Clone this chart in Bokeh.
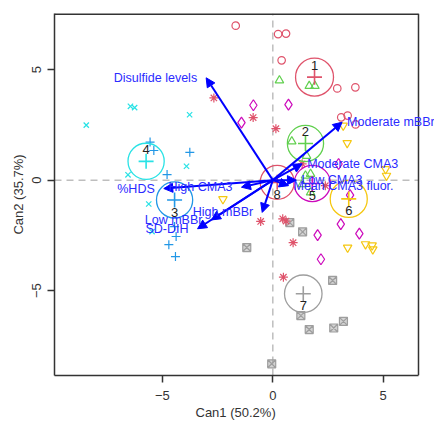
from bokeh.plotting import figure
from bokeh.models import (ColumnDataSource, Arrow, NormalHead, Label,
                          Range1d, FixedTicker, Title)
from bokeh.embed import file_html
from bokeh.resources import INLINE

FONT = "Liberation Sans"

# Canonical scores of the observations, one pair of lists per group
can1_g1 = [-1.68, 0.24, 0.60, 0.40, 2.92, 3.74, 3.10, 3.39, 3.75]
can2_g1 = [6.99, 6.61, 6.63, 5.42, 4.15, 4.20, 2.84, 2.92, 2.52]
can1_g2 = [0.30, 1.65, 1.91, 0.86, 1.53, 1.48, 1.71, 1.33, 1.71]
can2_g2 = [4.51, 4.26, 4.26, 1.75, 1.10, 0.20, 0.28, -0.18, -0.56]
can1_g3 = [-5.56, -5.39, -3.76, -4.79, -4.38, -4.71, -4.41, -4.45]
can2_g3 = [1.72, 1.34, 1.26, 0.25, -2.55, -2.92, -3.46, -2.10]
can1_g4 = [-8.45, -6.45, -6.26, -3.77, -3.91, -6.56, -5.62, -5.47]
can2_g4 = [2.49, 3.34, 3.28, 2.96, 0.63, 0.24, -1.08, -2.33]
can1_g5 = [-0.88, -1.42, 0.71, 2.98, 3.50, 3.08, 3.92, 2.03, 2.18]
can2_g5 = [3.39, 2.60, 3.42, 0.73, -0.68, -1.99, -2.42, -2.49, -3.58]
can1_g6 = [3.19, 3.37, 5.11, 5.15, -2.26, 3.39, 4.20, 4.50, 4.53]
can2_g6 = [2.47, 1.68, 0.50, 0.20, -0.86, -3.05, -2.90, -2.95, -3.13]
can1_g7 = [0.77, 1.35, -1.18, 2.71, 1.27, 1.65, 2.76, 3.20, -0.05]
can2_g7 = [-1.92, -2.34, -3.05, -4.54, -6.13, -6.76, -6.69, -6.39, -8.31]
can1_g8 = [-2.67, -0.89, 0.14, 1.33, -0.55, 0.45, 0.60, 0.92, 0.48, 2.38]
can2_g8 = [3.72, 2.83, 2.33, 0.74, -1.87, -1.75, -1.85, -2.83, -4.39, -0.25]

group_labels = ["1", "2", "3", "4", "5", "6", "7", "8"]
group_colors = ["#DF536B", "#61D04F", "#2297E6", "#28E2E5",
                "#CD0BBC", "#F5C710", "#9E9E9E", "#DF536B"]
group_markers = ["circle", "triangle", "cross", "x",
                 "diamond", "inverted_triangle", "square_x", "asterisk"]

# Group centroids and radii of their confidence circles
centroid_can1 = [1.89, 1.48, -4.45, -5.74, 1.79, 3.44, 1.38, 0.20]
centroid_can2 = [4.66, 1.66, -0.90, 0.85, -0.15, -0.85, -5.14, -0.10]
centroid_radius = [0.86, 0.82, 0.82, 0.82, 0.82, 0.84, 0.85, 0.77]

# Structure vectors of the variables
vector_names = ["Disulfide levels", "%HDS", "High CMA3", "Low mBBr", "SD-DIH",
                "High mBBr", "Moderate mBBr", "Moderate CMA3", "Low CMA3",
                "Mean CMA3 fluor."]
vector_can1 = [-3.02, -4.94, -1.42, -2.78, -3.41, -0.48, 3.14, 1.33, 1.07, 0.71]
vector_can2 = [4.63, -0.38, -0.32, -1.80, -2.20, -1.46, 2.62, 0.74, 0.00, -0.25]

x_label = "Can1 (50.2%)"
y_label = "Can2 (35.7%)"
ticks = [-5, 0, 5]

# Plot box limits; the frame runs past the box on the right so that vector
# labels can spill over the box edge.
box_x = (-9.89, 6.60)
box_y = (-8.84, 7.54)
ink = "#333333"

p = figure(width=434, height=425, output_backend="svg", toolbar_location=None,
           x_range=Range1d(box_x[0], 7.325), y_range=Range1d(*box_y),
           min_border_left=54, min_border_right=0, min_border_top=13,
           min_border_bottom=50)
p.background_fill_color = "white"
p.border_fill_color = "white"
p.grid.visible = False
p.outline_line_color = None

for ax in (p.xaxis, p.yaxis):
    ax.ticker = FixedTicker(ticks=ticks)
    ax.minor_tick_line_color = None
    ax.major_tick_in = 0
    ax.major_tick_out = 7
    ax.major_tick_line_width = 1.5
    ax.major_tick_line_color = ink
    ax.axis_line_color = ink
    ax.axis_line_width = 1.5
    ax.major_label_text_font = FONT
    ax.major_label_text_font_size = "13px"
    ax.major_label_text_color = ink
    ax.axis_label_text_font = FONT
    ax.axis_label_text_font_size = "13px"
    ax.axis_label_text_font_style = "normal"
    ax.axis_label_text_color = ink
p.xaxis.major_label_standoff = 8
p.yaxis.major_label_standoff = 6
p.xaxis.bounds = box_x
p.yaxis.bounds = box_y
p.yaxis.axis_label = y_label
p.yaxis.axis_label_standoff = 4
p.yaxis.major_label_orientation = "parallel"

# x axis title, centred under the plot box rather than the wider frame
p.add_layout(Title(text=x_label, align="left", offset=141, standoff=0,
                   text_font=FONT, text_font_size="13px", text_line_height=0.5,
                   text_font_style="normal", text_color=ink), "below")

# Reference lines through the origin
p.segment(x0=[0, box_x[0]], y0=[box_y[0], 0], x1=[0, box_x[1]], y1=[box_y[1], 0],
          line_color="#BEBEBE", line_width=1.5, line_dash="7 5")

# Top and right edges of the plot box
p.segment(x0=[box_x[0]], y0=[box_y[1]], x1=[box_x[1]], y1=[box_y[1]],
          line_color=ink, line_width=3)
p.segment(x0=[box_x[1]], y0=[box_y[0]], x1=[box_x[1]], y1=[box_y[1]],
          line_color=ink, line_width=1.5)

# Observations
score_lists = [(can1_g1, can2_g1), (can1_g2, can2_g2), (can1_g3, can2_g3),
               (can1_g4, can2_g4), (can1_g5, can2_g5), (can1_g6, can2_g6),
               (can1_g7, can2_g7), (can1_g8, can2_g8)]
marker_size = {"circle": 7.5, "triangle": 8.5, "cross": 9, "x": 7.5,
               "diamond": 11, "inverted_triangle": 8.5, "square_x": 8,
               "asterisk": 9}
for (xs, ys), col, mk in zip(score_lists, group_colors, group_markers):
    fill = col if mk == "square_x" else None
    p.scatter(xs, ys, marker=mk, size=marker_size[mk], line_color=col,
              fill_color=fill, fill_alpha=0.45, line_width=1.2)

# Centroids with circles
csrc = ColumnDataSource(dict(x=centroid_can1, y=centroid_can2, r=centroid_radius,
                             col=group_colors))
p.circle(x="x", y="y", radius="r", source=csrc, fill_color=None,
         line_color="col", line_width=1.3)
p.scatter(x="x", y="y", source=csrc, marker="cross", size=15,
          line_color="col", line_width=1.6)

for cx, cy, lab in zip(centroid_can1, centroid_can2, group_labels):
    p.add_layout(Label(x=cx, y=cy, text=lab, y_offset=12 if cy > 0 else -12,
                       text_align="center", text_baseline="middle",
                       text_font=FONT, text_font_size="13px",
                       text_color="#222222"))

# Variable vectors
vsrc = ColumnDataSource(dict(x0=[0] * len(vector_names), y0=[0] * len(vector_names),
                             x1=vector_can1, y1=vector_can2))
p.add_layout(Arrow(source=vsrc, x_start="x0", y_start="y0", x_end="x1", y_end="y1",
                   line_color="blue", line_width=2,
                   end=NormalHead(size=9, fill_color="blue", line_color="blue",
                                  line_width=1)))

for vx, vy, name in zip(vector_can1, vector_can2, vector_names):
    neg = vx < 0
    p.add_layout(Label(x=vx, y=vy, text=name, x_offset=-9 if neg else 5,
                       text_align="right" if neg else "left",
                       text_baseline="middle", text_font=FONT,
                       text_font_size="12.5px", text_color="#2B2BFF"))

open("out.html", "w").write(file_html(p, INLINE))
